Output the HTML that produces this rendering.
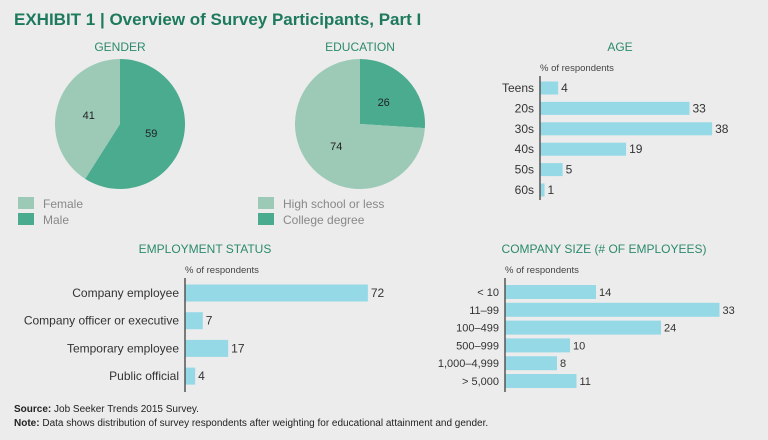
<!DOCTYPE html>
<html><head><meta charset="utf-8"><style>
body{margin:0;background:#ececec;}
svg{display:block;font-family:"Liberation Sans",sans-serif;}
</style></head><body>
<svg width="768" height="440" viewBox="0 0 768 440">
<rect width="768" height="440" fill="#ececec"/>
<text x="14" y="25" font-size="17" font-weight="bold" fill="#1e7a5c">EXHIBIT 1 | Overview of Survey Participants, Part I</text>
<g id="pies"></g>
<g id="bars"></g>
<text x="14" y="412" font-size="10" fill="#222"><tspan font-weight="bold">Source:</tspan> Job Seeker Trends 2015 Survey.</text>
<text x="14" y="426" font-size="10" fill="#222"><tspan font-weight="bold">Note:</tspan> Data shows distribution of survey respondents after weighting for educational attainment and gender.</text>
</svg>
<script>
const genderLabels=["Female","Male"];
const genderValues=[41,59];
const eduLabels=["High school or less","College degree"];
const eduValues=[74,26];
const ageCats=["Teens","20s","30s","40s","50s","60s"];
const ageValues=[4,33,38,19,5,1];
const empCats=["Company employee","Company officer or executive","Temporary employee","Public official"];
const empValues=[72,7,17,4];
const sizeCats=["< 10","11–99","100–499","500–999","1,000–4,999","> 5,000"];
const sizeValues=[14,33,24,10,8,11];

const NS="http://www.w3.org/2000/svg";
const pieColors=["#9ccab7","#4aab8f"];
function mk(tag,attrs,parent){const e=document.createElementNS(NS,tag);for(const k in attrs)e.setAttribute(k,attrs[k]);parent.appendChild(e);return e;}
const pies=document.getElementById('pies');
const bars=document.getElementById('bars');

function pie(title,labels,values,cx,cy,r,legX,darkFirst){
  const t=mk('text',{x:cx,y:51,'font-size':12,fill:'#2c8a6c','text-anchor':'middle'},pies);t.textContent=title;
  
  
  const total=values.reduce((a,b)=>a+b,0);
  // dark slice (index 1) starts at 12 o'clock clockwise; light fills rest
  const order=[1,0];let a0=0;
  order.forEach(i=>{
    const frac=values[i]/total;const a1=a0+frac*2*Math.PI;
    const x0=cx+r*Math.sin(a0),y0=cy-r*Math.cos(a0),x1=cx+r*Math.sin(a1),y1=cy-r*Math.cos(a1);
    const p=mk('path',{d:`M${cx},${cy}L${x0},${y0}A${r},${r} 0 ${frac>0.5?1:0} 1 ${x1},${y1}Z`,fill:pieColors[i]},pies);
    
    
    const am=(a0+a1)/2;const lr=r*0.5;
    const lt=mk('text',{x:cx+lr*Math.sin(am),y:cy-lr*Math.cos(am)+4,'font-size':11,fill:'#222','text-anchor':'middle'},pies);
    lt.textContent=values[i];
    
    
    a0=a1;
  });
  labels.forEach((l,i)=>{
    const y=197+i*16;
    const s=mk('rect',{x:legX,y:y,width:16,height:12,fill:pieColors[i]},pies);
    
    
    const lt=mk('text',{x:legX+25,y:y+11,'font-size':12,fill:'#888'},pies);lt.textContent=l;
    
    
  });
}
pie("GENDER",genderLabels,genderValues,120,124,65,18);
pie("EDUCATION",eduLabels,eduValues,360,124,65,258);

function barChart(title,titleX,cats,vals,axisX,y0,step,bh,scale,axisTop,axisBot,fs){
  const t=mk('text',{x:titleX,y:51+(y0>250?202:0),'font-size':12,fill:'#2c8a6c','text-anchor':'middle'},bars);t.textContent=title;
  
  
  const u=mk('text',{x:axisX,y:axisTop-5,'font-size':9.5,fill:'#444'},bars);u.textContent="% of respondents";
  
  
  cats.forEach((c,i)=>{
    const yc=y0+i*step;
    const b=mk('rect',{x:axisX,y:yc-bh/2,width:vals[i]*scale,height:bh,fill:'#95d9e6'},bars);
    
    
    const cl=mk('text',{x:axisX-6,y:yc+4,'font-size':fs,fill:'#333','text-anchor':'end'},bars);cl.textContent=c;
    
    
    const vl=mk('text',{x:axisX+vals[i]*scale+3,y:yc+4,'font-size':fs,fill:'#333'},bars);vl.textContent=vals[i];
    
    
  });
  const ax=mk('line',{x1:axisX,x2:axisX,y1:axisTop,y2:axisBot,stroke:'#555','stroke-width':1.5},bars);
  
  
}
barChart("AGE",620,ageCats,ageValues,540,88,20.4,13,4.53,76,200,12);
barChart("EMPLOYMENT STATUS",205,empCats,empValues,185,293,27.7,17,2.54,278,392,12);
barChart("COMPANY SIZE (# OF EMPLOYEES)",604,sizeCats,sizeValues,505,292,17.8,14,6.5,278,392,11);
</script>
</body></html>
